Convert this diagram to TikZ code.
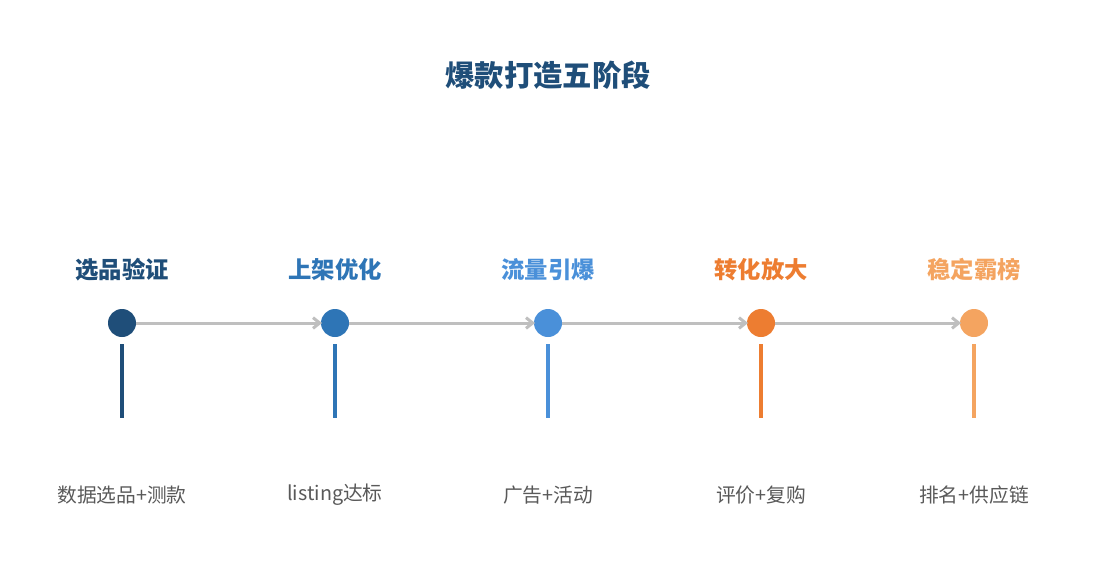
\documentclass[tikz,border=0pt]{standalone}
\usepackage{fontspec}
\setmainfont{Noto Sans CJK SC}
\usetikzlibrary{arrows.meta}
\definecolor{cA}{HTML}{1F4E79}
\definecolor{cB}{HTML}{2E75B6}
\definecolor{cC}{HTML}{4A90D9}
\definecolor{cD}{HTML}{ED7D31}
\definecolor{cE}{HTML}{F4A460}
\definecolor{flow}{HTML}{BFBFBF}
\definecolor{txt}{HTML}{595959}
\tikzset{
  dot/.style={circle,fill=#1,minimum size=28*0.75pt,inner sep=0pt},
  stage/.style={text=#1,font=\fontsize{17.5pt}{19pt}\selectfont\bfseries},
  desc/.style={text=txt,font=\fontsize{14.8pt}{17pt}\selectfont},
  stem/.style={draw=#1,line width=3.2*0.75pt},
  flowarrow/.style={draw=flow,line width=3*0.75pt,shorten >=-1pt,-{Straight Barb[length=5pt,width=8pt]}},
}
\begin{document}
\begin{tikzpicture}[x=0.75pt,y=-0.75pt]
\useasboundingbox (0,0) rectangle (1095,585);
\node[text=cA,font=\fontsize{22pt}{25pt}\selectfont\bfseries] (title) at (548,75) {爆款打造五阶段};
\foreach \i/\x/\c/\s/\d in {1/122/cA/选品验证/数据选品+测款,2/335/cB/上架优化/listing达标,3/548/cC/流量引爆/广告+活动,4/761/cD/转化放大/评价+复购,5/974/cE/稳定霸榜/排名+供应链}{
  \node[stage=\c] (s\i) at (\x,270) {\s};
  \coordinate (t\i) at (\x,344);
  \coordinate (b\i) at (\x,418);
  \draw[stem=\c] (t\i) -- (b\i);
  \node[desc] (d\i) at (\x,495) {\d};
}
\foreach \i/\x/\c in {1/122/cA,2/335/cB,3/548/cC,4/761/cD,5/974/cE}{
  \node[dot=\c] (n\i) at (\x,323) {};
}
\foreach \a/\b in {1/2,2/3,3/4,4/5}{
  \draw[flowarrow] (n\a) -- (n\b);
}
\end{tikzpicture}
\end{document}
